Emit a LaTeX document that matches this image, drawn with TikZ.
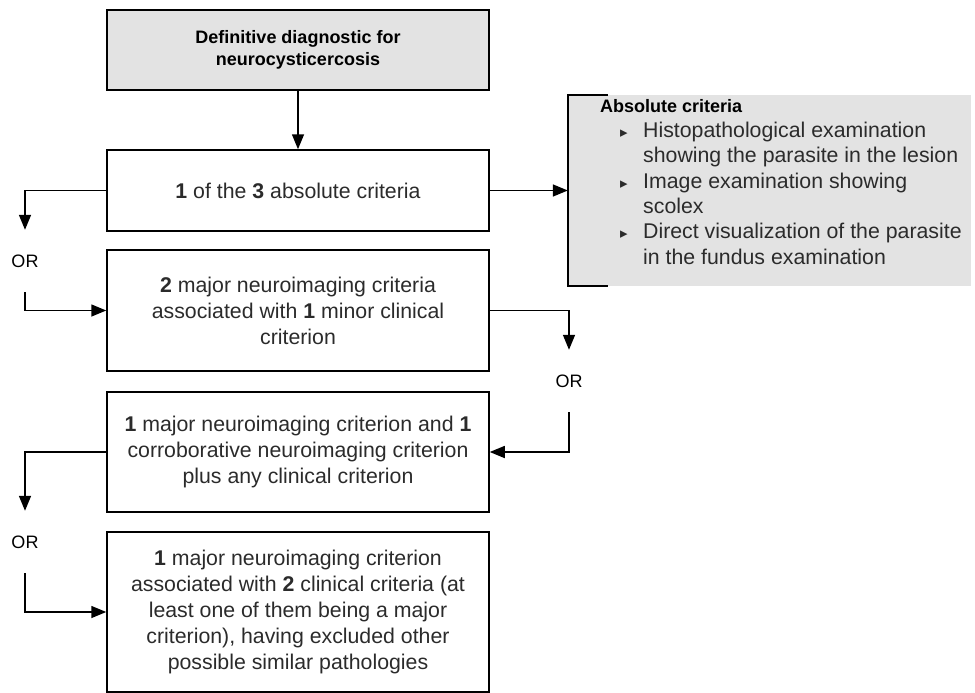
\documentclass[tikz,border=0pt]{standalone}
\usepackage{fontspec}
\setmainfont{Liberation Sans}
\newfontfamily\symfont{DejaVu Sans}
\usepackage{xcolor}
\usetikzlibrary{arrows.meta, positioning, calc}
\definecolor{boxgray}{HTML}{E3E3E3}
\definecolor{txtgray}{HTML}{2B2B2B}
\tikzstyle{arrow} = [line width=1.5pt,-{Triangle[length=15pt,width=12pt]}]
\tikzstyle{crit} = [rectangle, draw, line width=1.5pt, minimum width=382pt, align=center, text=txtgray, inner sep=0pt, font=\fontsize{21.3}{26}\selectfont]
\tikzstyle{orlabel} = [inner sep=0pt, minimum height=62pt, font=\fontsize{18}{20}\selectfont]
\newcommand{\tri}{{\symfont\fontsize{15}{15}\selectfont ▸}}

\begin{document}
\begin{tikzpicture}[x=1pt, y=-1pt]
        % 绘制诊断标准流程图
        \useasboundingbox (0,0) rectangle (975,693);
        \node[crit, fill=boxgray, minimum height=80pt, text=black, font=\bfseries\fontsize{18}{22}\selectfont] (diag) at (298,50) {Definitive diagnostic for\\neurocysticercosis};
        \node[crit, minimum height=81pt] (crit1) at (298,190.5) {\textbf{1} of the \textbf{3} absolute criteria};
        \node[crit, minimum height=121pt] (crit2) at (298,310.5) {\textbf{2} major neuroimaging criteria\\associated with \textbf{1} minor clinical\\criterion};
        \node[crit, minimum height=120pt] (crit3) at (298,452) {\textbf{1} major neuroimaging criterion and \textbf{1}\\corroborative neuroimaging criterion\\plus any clinical criterion};
        \node[crit, minimum height=160pt] (crit4) at (298,612) {\textbf{1} major neuroimaging criterion\\associated with \textbf{2} clinical criteria (at\\least one of them being a major\\criterion), having excluded other\\possible similar pathologies};

        \node[orlabel] (or1) at (25,261) {OR};
        \node[orlabel] (or2) at (569,381) {OR};
        \node[orlabel] (or3) at (25,542) {OR};

        \node[fill=boxgray, minimum width=403pt, minimum height=191pt, inner sep=0pt] (absol) at (769.5,190.5) {};
        \draw[line width=1.5pt] ($(absol.north west)+(40,0)$) -- (absol.north west) -- (absol.south west) -- ++(40,0);
        \node[anchor=north west, inner sep=0pt, align=left, text=txtgray, font=\fontsize{21.3}{25.3}\selectfont] (abslist) at (600,99) {%
            {\color{black}\bfseries\fontsize{18}{25.3}\selectfont Absolute criteria}\\
            \hspace*{20pt}\makebox[23pt][l]{\tri}Histopathological examination\\
            \hspace*{43pt}showing the parasite in the lesion\\
            \hspace*{20pt}\makebox[23pt][l]{\tri}Image examination showing\\
            \hspace*{43pt}scolex\\
            \hspace*{20pt}\makebox[23pt][l]{\tri}Direct visualization of the parasite\\
            \hspace*{43pt}in the fundus examination};

        \draw[arrow] (diag) -- (crit1);
        \draw[arrow] (crit1) -- (absol);
        \draw[arrow] (crit1.west) -| (or1.north);
        \draw[arrow] (or1.south) |- (crit2.west);
        \draw[arrow] (crit2.east) -| (or2.north);
        \draw[arrow] (or2.south) |- (crit3.east);
        \draw[arrow] (crit3.west) -| (or3.north);
        \draw[arrow] (or3.south) |- (crit4.west);
    \end{tikzpicture}
\end{document}
